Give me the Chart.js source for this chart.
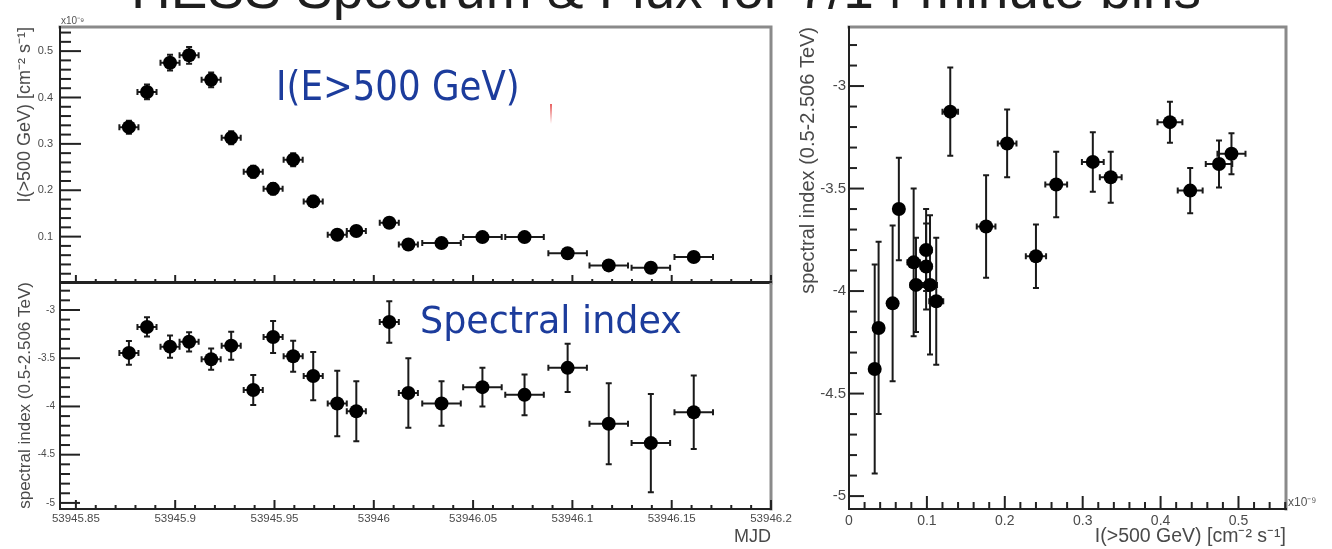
<!DOCTYPE html>
<html>
<head>
<meta charset="utf-8">
<script src="https://cdn.jsdelivr.net/npm/chart.js@4.4.0/dist/chart.umd.min.js"></script>
<style>
  body { margin: 0; width: 1332px; height: 549px; background: #fff; position: relative; overflow: hidden;
         font-family: 'Liberation Sans', Arial, sans-serif; }
  canvas { position: absolute; }
  .title { position: absolute; left: 0; width: 1332px; top: -38px; text-align: center; font-size: 55px;
           line-height: 55px; color: #1e1e1e; white-space: nowrap; }
  .note { position: absolute; color: #1c3c9c; font-family: 'DejaVu Sans', sans-serif; white-space: nowrap;
          transform-origin: 0 0; line-height: 1; }
  .exp { position: absolute; color: #555; white-space: nowrap; }
</style>
</head>
<body>
<div class="title">HESS Spectrum &amp; Flux for 7/14 minute bins</div>

<canvas id="flux" width="800" height="290" style="left:0;top:0"></canvas>
<canvas id="index" width="800" height="274" style="left:0;top:275px"></canvas>
<canvas id="corr" width="552" height="549" style="left:780px;top:0"></canvas>

<div class="exp" style="left:61px;top:13px;font-size:10px">x10⁻⁹</div>
<div class="exp" style="left:1288px;top:493px;font-size:12px">x10⁻⁹</div>
<div class="note" id="note-flux" data-w="244" style="left:276px;top:66px;font-size:41px">I(E&gt;500 GeV)</div>
<div class="note" id="note-index" data-w="262" style="left:420px;top:302px;font-size:37px">Spectral index</div>
<div style="position:absolute;left:550px;top:104px;width:2px;height:20px;background:linear-gradient(#e86060,rgba(232,96,96,0))"></div>

<script>
// Light curve bins: centre time (MJD) and half width
const mjd = [53945.8767, 53945.8858, 53945.8974, 53945.9070, 53945.9181, 53945.9282, 53945.9393,
             53945.9493, 53945.9594, 53945.9695, 53945.9816, 53945.9912, 53946.0078, 53946.0174,
             53946.0341, 53946.0547, 53946.0759, 53946.0976, 53946.1183, 53946.1395, 53946.1611];
const mjdErr = [0.0048, 0.0048, 0.0048, 0.0048, 0.0048, 0.0048, 0.0048,
                0.0048, 0.0048, 0.0048, 0.0048, 0.0048, 0.0048, 0.0048,
                0.0097, 0.0097, 0.0097, 0.0097, 0.0097, 0.0097, 0.0097];

// Integral flux above 500 GeV, units of 1e-9 cm^-2 s^-1
const flux = [0.336, 0.412, 0.475, 0.491, 0.438, 0.313, 0.240, 0.203, 0.266, 0.176, 0.104,
              0.112, 0.130, 0.083, 0.086, 0.099, 0.099, 0.064, 0.038, 0.033, 0.056];
const fluxErr = [0.014, 0.016, 0.017, 0.018, 0.016, 0.014, 0.013, 0.012, 0.014, 0.012, 0.009,
                 0.009, 0.010, 0.008, 0.007, 0.007, 0.007, 0.006, 0.005, 0.005, 0.006];

// Photon index fitted between 0.5 and 2.506 TeV
const index = [-3.445, -3.176, -3.38, -3.33, -3.51, -3.37, -3.83, -3.28, -3.48, -3.685, -3.97,
               -4.05, -3.125, -3.86, -3.97, -3.80, -3.88, -3.60, -4.18, -4.38, -4.06];
const indexErr = [0.124, 0.10, 0.115, 0.10, 0.11, 0.145, 0.155, 0.165, 0.16, 0.25, 0.34,
                  0.31, 0.215, 0.36, 0.23, 0.20, 0.21, 0.25, 0.42, 0.51, 0.38];

// Labelled tick positions
const mjdTicks = [53945.85, 53945.9, 53945.95, 53946, 53946.05, 53946.1, 53946.15, 53946.2];
const fluxTicks = [0.1, 0.2, 0.3, 0.4, 0.5];
const indexTicks = [-5, -4.5, -4, -3.5, -3];
const corrFluxTicks = [0, 0.1, 0.2, 0.3, 0.4, 0.5];

const LABEL = '#4a4a4a';
const AXIS = '#222';

// ─── Plugins ──────────────────────────────────────────────────────────────────
// ROOT style frame: dark axes on left/bottom, grey box on top/right
const frame = {
  id: 'frame',
  afterDraw(chart, args, opts) {
    const { ctx, chartArea: a } = chart;
    ctx.save();
    ctx.lineCap = 'square';
    ctx.strokeStyle = '#8a8a8a';
    ctx.lineWidth = 3;
    ctx.beginPath();
    if (opts.top !== false) { ctx.moveTo(a.left, a.top); ctx.lineTo(a.right, a.top); }
    ctx.moveTo(a.right, a.top); ctx.lineTo(a.right, a.bottom);
    ctx.stroke();
    ctx.strokeStyle = AXIS;
    ctx.lineWidth = 2;
    ctx.beginPath();
    ctx.moveTo(a.left, a.top); ctx.lineTo(a.left, a.bottom); ctx.lineTo(a.right, a.bottom);
    if (opts.top === false) { ctx.moveTo(a.left, a.top); ctx.lineTo(a.right, a.top); }
    ctx.stroke();
    ctx.restore();
  }
};

// Tick marks drawn inwards from the axes, major + minor
const insideTicks = {
  id: 'insideTicks',
  afterDraw(chart, args, opts) {
    const { ctx, chartArea: a } = chart;
    ctx.save();
    ctx.strokeStyle = AXIS;
    ctx.lineWidth = 2;
    opts.axes.forEach(ax => {
      const scale = chart.scales[ax.id];
      const first = Math.ceil(scale.min / ax.minor - 1e-6);
      const last = Math.floor(scale.max / ax.minor + 1e-6);
      for (let k = first; k <= last; k++) {
        const v = k * ax.minor;
        const r = v / ax.major;
        const len = Math.abs(r - Math.round(r)) < 1e-6 ? ax.majorLen : ax.minorLen;
        const p = scale.getPixelForValue(v);
        ctx.beginPath();
        if (scale.isHorizontal()) { ctx.moveTo(p, a.bottom); ctx.lineTo(p, a.bottom - len); }
        else { ctx.moveTo(a.left, p); ctx.lineTo(a.left + len, p); }
        ctx.stroke();
      }
    });
    ctx.restore();
  }
};

// Error bars with short end caps, read from dataset.xErr / dataset.yErr
const errorBars = {
  id: 'errorBars',
  beforeDatasetsDraw(chart) {
    const { ctx } = chart;
    const xs = chart.scales.x, ys = chart.scales.y;
    const cap = 3;
    ctx.save();
    ctx.strokeStyle = '#1a1a1a';
    ctx.lineWidth = 2;
    chart.data.datasets.forEach(ds => {
      ds.data.forEach((pt, i) => {
        const px = xs.getPixelForValue(pt.x), py = ys.getPixelForValue(pt.y);
        const x0 = xs.getPixelForValue(pt.x - ds.xErr[i]), x1 = xs.getPixelForValue(pt.x + ds.xErr[i]);
        const y0 = ys.getPixelForValue(pt.y - ds.yErr[i]), y1 = ys.getPixelForValue(pt.y + ds.yErr[i]);
        ctx.beginPath();
        ctx.moveTo(x0, py); ctx.lineTo(x1, py);
        ctx.moveTo(px, y0); ctx.lineTo(px, y1);
        ctx.moveTo(x0, py - cap); ctx.lineTo(x0, py + cap);
        ctx.moveTo(x1, py - cap); ctx.lineTo(x1, py + cap);
        ctx.moveTo(px - cap, y0); ctx.lineTo(px + cap, y0);
        ctx.moveTo(px - cap, y1); ctx.lineTo(px + cap, y1);
        ctx.stroke();
      });
    });
    ctx.restore();
  }
};

// ─── Helpers ──────────────────────────────────────────────────────────────────
function points(xs, ys) {
  return xs.map((x, i) => ({ x, y: ys[i] }));
}

function fixedTicks(list) {
  return scale => { scale.ticks = list.map(value => ({ value })); };
}

// Fixed axis box size; drop the label overhang padding so the plot frame stays put
function fitBox(size) {
  return s => {
    if (s.isHorizontal()) s.height = size; else s.width = size;
    s.paddingLeft = s.paddingRight = s.paddingTop = s.paddingBottom = 0;
  };
}

function markerSet(data, xErr, yErr, radius) {
  return { data, xErr, yErr, pointRadius: radius, pointBackgroundColor: '#000', pointBorderWidth: 0 };
}

const baseOptions = {
  responsive: false,
  animation: false,
  events: [],
  plugins: { legend: { display: false }, tooltip: { enabled: false } },
};

// ─── Light curve (top left) ───────────────────────────────────────────────────
new Chart(document.getElementById('flux'), {
  type: 'scatter',
  data: { datasets: [markerSet(points(mjd, flux), mjdErr, fluxErr, 7)] },
  options: {
    ...baseOptions,
    layout: { padding: { top: 27, right: 29, bottom: 2, left: 0 } },
    scales: {
      x: { type: 'linear', min: 53945.842, max: 53946.2, display: false, afterFit: fitBox(0) },
      y: {
        min: 0, max: 0.552,
        afterFit: fitBox(60),
        afterBuildTicks: fixedTicks(fluxTicks),
        grid: { display: false, drawTicks: false }, border: { display: false },
        ticks: { padding: 7, color: LABEL, font: { size: 11 }, callback: v => String(v) },
        title: { display: true, text: 'I(>500 GeV) [cm⁻² s⁻¹]', align: 'end', color: LABEL,
                 font: { size: 18 }, padding: { top: 14 } },
      },
    },
    plugins: {
      ...baseOptions.plugins,
      insideTicks: { axes: [
        { id: 'x', major: 0.05, minor: 0.01, majorLen: 8, minorLen: 4 },
        { id: 'y', major: 0.1, minor: 0.02, majorLen: 21, minorLen: 11 },
      ] },
    },
  },
  plugins: [errorBars, frame, insideTicks],
});

// ─── Spectral index vs time (bottom left) ─────────────────────────────────────
new Chart(document.getElementById('index'), {
  type: 'scatter',
  data: { datasets: [markerSet(points(mjd, index), mjdErr, indexErr, 7)] },
  options: {
    ...baseOptions,
    layout: { padding: { top: 2, right: 29, bottom: 0, left: 0 } },
    scales: {
      x: {
        type: 'linear', min: 53945.842, max: 53946.2,
        afterFit: fitBox(40),
        afterBuildTicks: fixedTicks(mjdTicks),
        grid: { display: false, drawTicks: false }, border: { display: false },
        ticks: { padding: 3, color: LABEL, font: { size: 11.5 }, maxRotation: 0, autoSkip: false,
                 callback: v => String(v) },
        title: { display: true, text: 'MJD', align: 'end', color: LABEL, font: { size: 18 },
                 padding: { top: 0, bottom: 1 } },
      },
      y: {
        min: -5.063, max: -2.71,
        afterFit: fitBox(60),
        afterBuildTicks: fixedTicks(indexTicks),
        grid: { display: false, drawTicks: false }, border: { display: false },
        ticks: { padding: 5, color: LABEL, font: { size: 10 }, callback: v => String(v) },
        title: { display: true, text: 'spectral index (0.5-2.506 TeV)', align: 'end', color: LABEL,
                 font: { size: 17 }, padding: { top: 15 } },
      },
    },
    plugins: {
      ...baseOptions.plugins,
      frame: { top: false },
      insideTicks: { axes: [
        { id: 'x', major: 0.05, minor: 0.01, majorLen: 9, minorLen: 4 },
        { id: 'y', major: 0.5, minor: 0.1, majorLen: 20, minorLen: 10 },
      ] },
    },
  },
  plugins: [errorBars, frame, insideTicks],
});

// ─── Spectral index vs flux (right) ───────────────────────────────────────────
new Chart(document.getElementById('corr'), {
  type: 'scatter',
  data: { datasets: [markerSet(points(flux, index), fluxErr, indexErr, 7)] },
  options: {
    ...baseOptions,
    layout: { padding: { top: 27, right: 46, bottom: 0, left: 0 } },
    scales: {
      x: {
        type: 'linear', min: 0, max: 0.561,
        afterFit: fitBox(40),
        afterBuildTicks: fixedTicks(corrFluxTicks),
        grid: { display: false, drawTicks: false }, border: { display: false },
        ticks: { padding: 4, color: LABEL, font: { size: 14 }, maxRotation: 0, autoSkip: false,
                 callback: v => String(v) },
        title: { display: true, text: 'I(>500 GeV) [cm⁻² s⁻¹]', align: 'end', color: LABEL,
                 font: { size: 19.5 }, padding: { top: 0, bottom: 1 } },
      },
      y: {
        min: -5.063, max: -2.712,
        afterFit: fitBox(69),
        afterBuildTicks: fixedTicks(indexTicks),
        grid: { display: false, drawTicks: false }, border: { display: false },
        ticks: { padding: 3, color: LABEL, font: { size: 15 }, callback: v => String(v) },
        title: { display: true, text: 'spectral index (0.5-2.506 TeV)', align: 'end', color: LABEL,
                 font: { size: 20 }, padding: { top: 16 } },
      },
    },
    plugins: {
      ...baseOptions.plugins,
      insideTicks: { axes: [
        { id: 'x', major: 0.1, minor: 0.02, majorLen: 13, minorLen: 7 },
        { id: 'y', major: 0.5, minor: 0.1, majorLen: 15, minorLen: 8 },
      ] },
    },
  },
  plugins: [errorBars, frame, insideTicks],
});

// Squeeze the hand-written style notes to their box widths
document.querySelectorAll('.note').forEach(el => {
  const k = Number(el.dataset.w) / el.offsetWidth;
  el.style.transform = `scaleX(${k})`;
});
</script>
</body>
</html>
